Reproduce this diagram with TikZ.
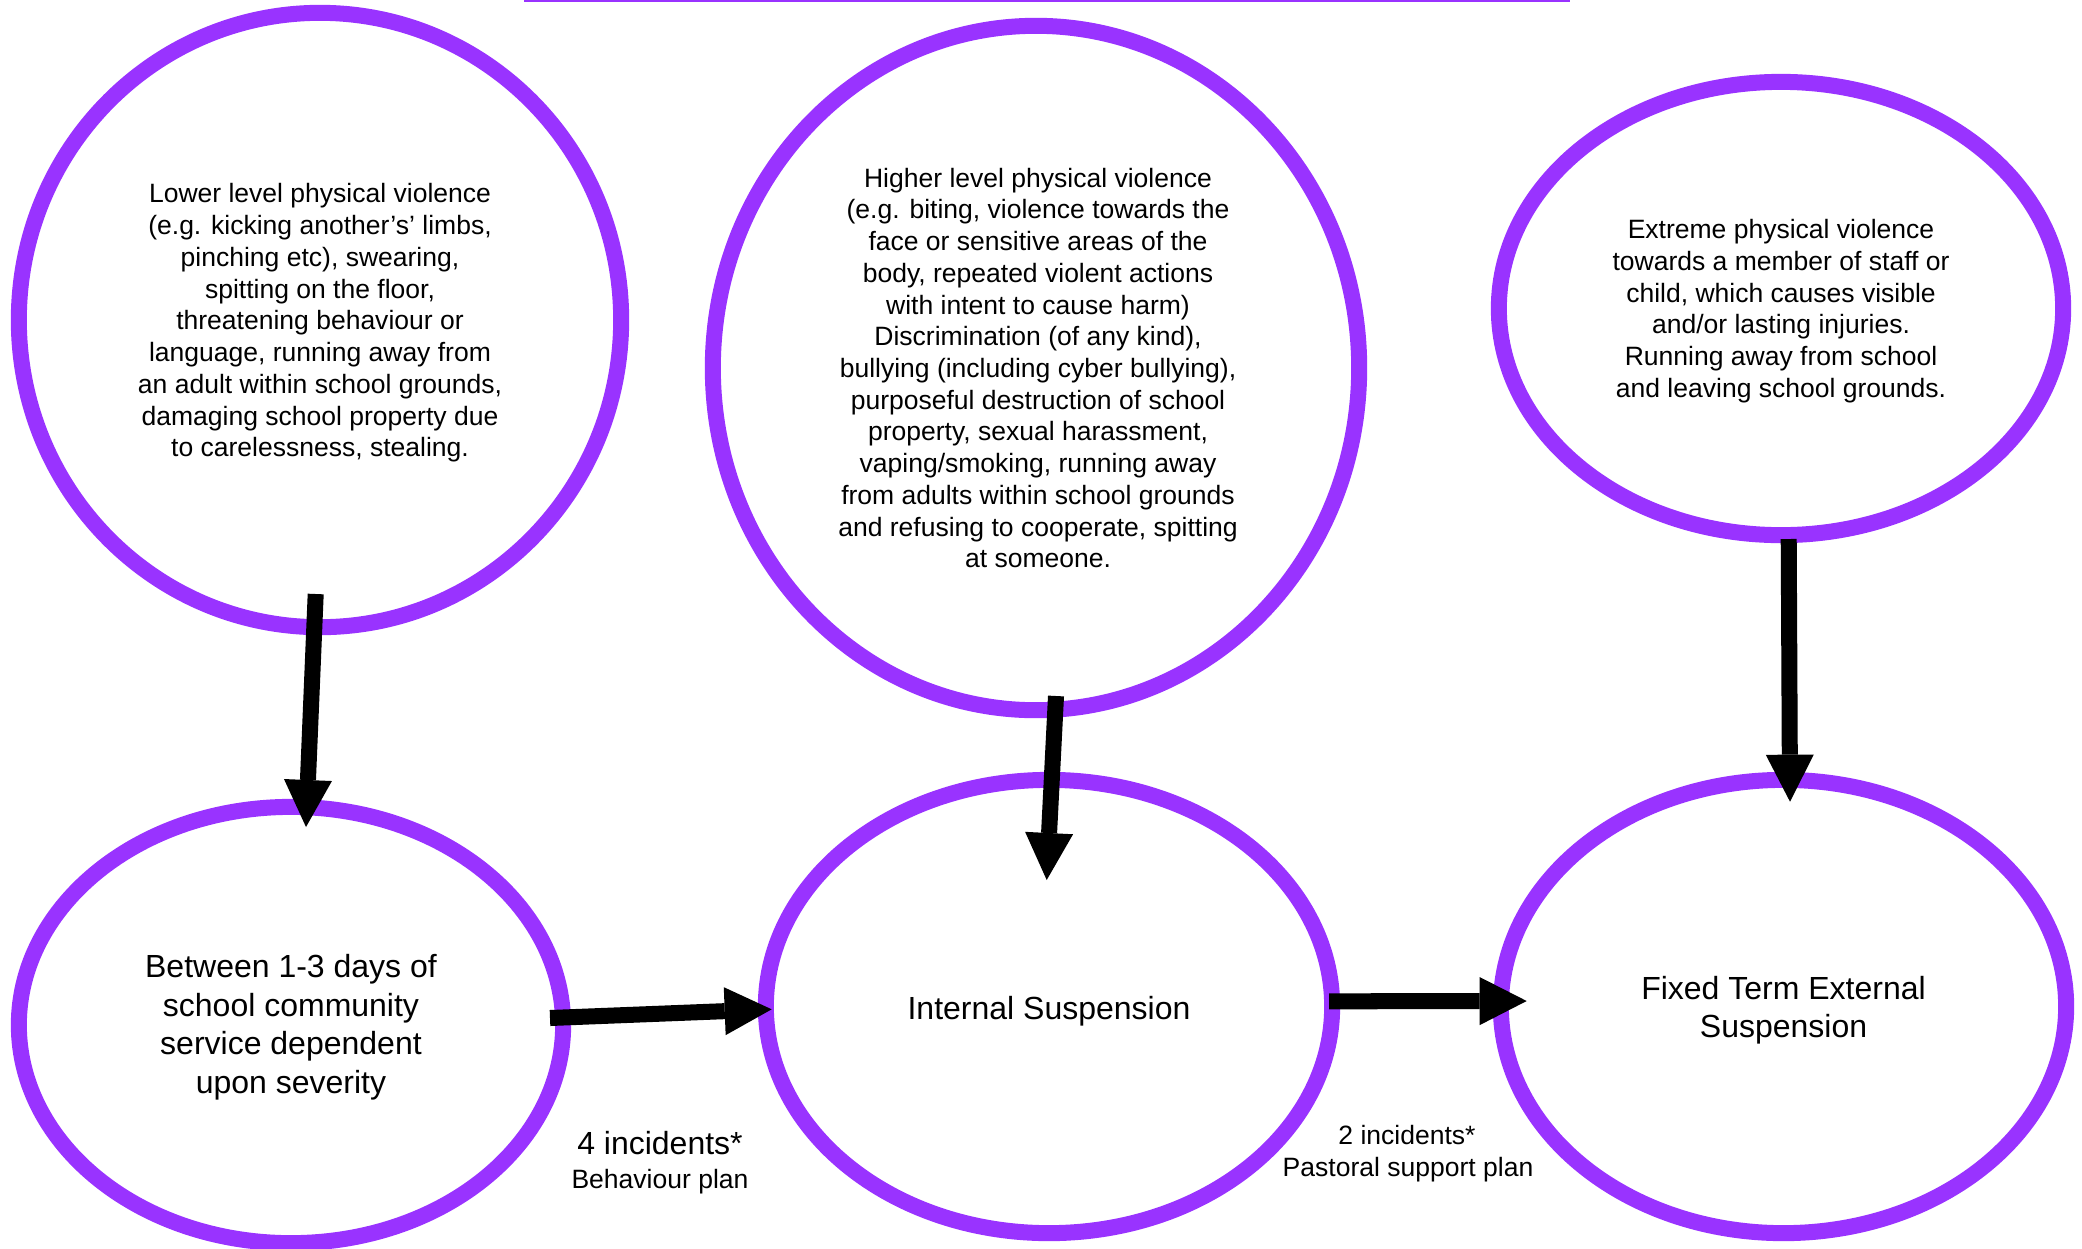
\documentclass[tikz,border=0pt]{standalone}
\usepackage{fontspec}
\setmainfont{Liberation Sans}
\usetikzlibrary{arrows.meta,shapes.geometric}
\definecolor{vio}{RGB}{153,51,255}
\begin{document}
\begin{tikzpicture}[x=0.01cm,y=-0.01cm,
  ring/.style={draw=vio, line width=0.16cm, ellipse, inner sep=0pt},
  txt/.style={align=center, inner sep=0pt},
  small/.style={font=\fontsize{7.54pt}{9.02pt}\selectfont},
  big/.style={font=\fontsize{9.1pt}{10.95pt}\selectfont},
  arr/.style={line width=0.16cm, -{Triangle[length=0.47cm,width=0.48cm,line width=0pt]}}]
\useasboundingbox (0,0) rectangle (2082,1248);
\draw[vio, line width=0.017cm] (524,0.85) -- (1570,0.85);

% ellipses
\node[ring, minimum width=6.02cm, minimum height=6.14cm] (e1) at (320,320) {};
\node[ring, minimum width=6.46cm, minimum height=6.84cm] (e2) at (1036,368) {};
\node[ring, minimum width=5.64cm, minimum height=4.53cm] (e3) at (1781,308.5) {};
\node[ring, minimum width=5.44cm, minimum height=4.36cm] (e4) at (291,1025) {};
\node[ring, minimum width=5.66cm, minimum height=4.53cm] (e5) at (1049,1006.5) {};
\node[ring, minimum width=5.65cm, minimum height=4.53cm] (e6) at (1783.5,1006.5) {};

% texts
\node[txt, small] (t1) at (320,323)
 {Lower level physical violence\\
(e.g. kicking another’s’ limbs,\\
pinching etc), swearing,\\
spitting on the floor,\\
threatening behaviour or\\
language, running away from\\
an adult within school grounds,\\
damaging school property due\\
to carelessness, stealing.};

\node[txt, small] (t2) at (1038,368)
 {Higher level physical violence\\
(e.g. biting, violence towards the\\
face or sensitive areas of the\\
body, repeated violent actions\\
with intent to cause harm)\\
Discrimination (of any kind),\\
bullying (including cyber bullying),\\
purposeful destruction of school\\
property, sexual harassment,\\
vaping/smoking, running away\\
from adults within school grounds\\
and refusing to cooperate, spitting\\
at someone.};

\node[txt, small] (t3) at (1781,311)
 {Extreme physical violence\\
towards a member of staff or\\
child, which causes visible\\
and/or lasting injuries.\\
Running away from school\\
and leaving school grounds.};

\node[txt, big] (t4) at (291,1027)
 {Between 1-3 days of\\school community\\service dependent\\upon severity};
\node[txt, big] (t5) at (1049,1011) {Internal Suspension};
\node[txt, big] (t6) at (1783.5,1010) {Fixed Term External\\Suspension};

\node[big] (l1a) at (660,1143) {4 incidents*};
\node[small] (l1b) at (660,1182) {Behaviour plan};
\node[small] (l2a) at (1407,1135) {2 incidents*};
\node[small] (l2b) at (1408,1170) {Pastoral support plan};

% connectors
\coordinate (a1s) at (315.7,594);
\coordinate (a1e) at (306,827);
\coordinate (a2s) at (550,1018);
\coordinate (a2e) at (771.7,1009.3);
\coordinate (a3s) at (1329,1001.3);
\coordinate (a3e) at (1526.7,1001);
\coordinate (a4s) at (1056,696);
\coordinate (a4e) at (1046.7,880);
\coordinate (a5s) at (1788.7,539);
\coordinate (a5e) at (1790,801.7);

\draw[arr] (a1s) -- (a1e);
\draw[arr] (a2s) -- (a2e);
\draw[arr] (a3s) -- (a3e);
\draw[arr] (a4s) -- (a4e);
\draw[arr] (a5s) -- (a5e);
\end{tikzpicture}
\end{document}
